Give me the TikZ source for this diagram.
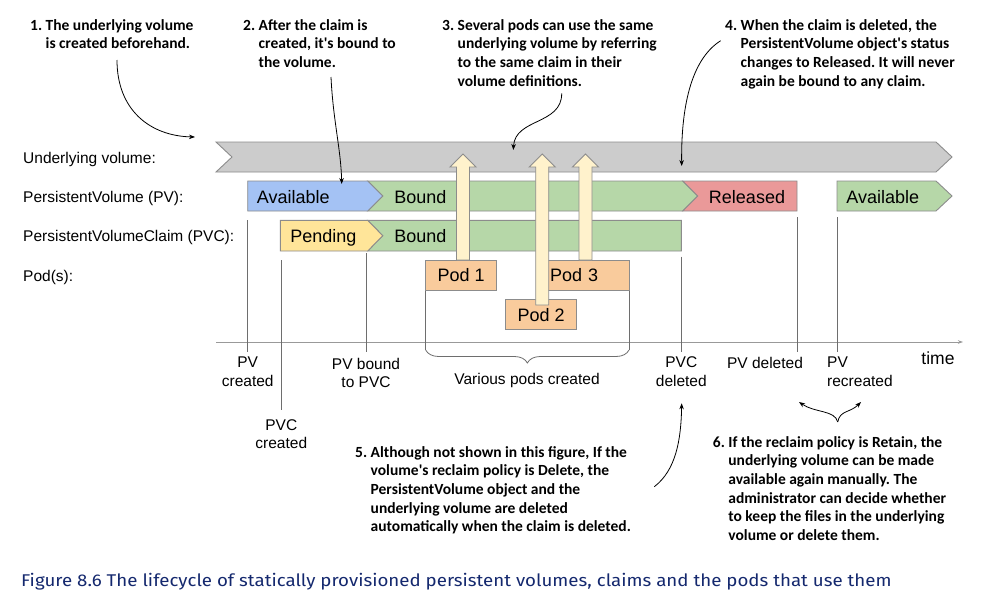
\documentclass[tikz,border=0pt]{standalone}
\usepackage{fontspec}
\setmainfont{Liberation Sans}
\newfontfamily\notefont{Carlito}
\newfontfamily\capfont{Fira Sans}[FakeStretch=1.1]
\usetikzlibrary{arrows.meta,positioning,decorations.pathreplacing,calc}
\frenchspacing
\definecolor{volgray}{HTML}{CCCCCC}
\definecolor{availblue}{HTML}{A4C2F4}
\definecolor{boundgreen}{HTML}{B6D7A8}
\definecolor{releasedred}{HTML}{EA9999}
\definecolor{pendyellow}{HTML}{FFE599}
\definecolor{podorange}{HTML}{F9CB9C}
\definecolor{podcream}{HTML}{FFF2CC}
\definecolor{edgegray}{HTML}{8C8C8C}
\definecolor{tickgray}{HTML}{6E6E6E}
\definecolor{captionblue}{HTML}{14286E}
\tikzset{
  bar/.style={draw=edgegray, line width=0.9pt},
  rowlabel/.style={inner sep=0pt, anchor=north west, font=\fontsize{15.5}{18.5}\selectfont},
  statelabel/.style={inner sep=0pt, anchor=north, font=\fontsize{18}{21}\selectfont},
  podbox/.style={draw=edgegray, line width=0.9pt, fill=podorange, inner sep=0pt,
    minimum height=30pt, font=\fontsize{18}{21}\selectfont},
  ticklabel/.style={inner sep=0pt, anchor=north, align=center, font=\fontsize{15.5}{18.5}\selectfont},
  note/.style={inner sep=0pt, anchor=base west, font=\notefont\bfseries\fontsize{15.5}{18.7}\selectfont},
  timetick/.style={draw=tickgray, line width=0.8pt},
  notearr/.style={-{Stealth[length=6pt,width=4.5pt]}, line width=0.8pt},
}
% block arrow from a pod up into the volume bar
\newcommand{\podarrow}[2]{%
  \draw[bar, fill=podcream] (#1-6.5,#2) -- (#1-6.5,167) -- (#1-13,167) -- (#1,154)
    -- (#1+13,167) -- (#1+6.5,167) -- (#1+6.5,#2) -- cycle;}
\newcommand{\notelines}[2]{\begin{tabular}[t]{@{}l@{\ }l@{}}#1 & #2\end{tabular}}

\begin{document}
\begin{tikzpicture}[x=1pt,y=-1pt]
  \useasboundingbox (0,0) rectangle (982,605);
  \fill[white] (0,0) rectangle (982,605);

  % row labels
  \node[rowlabel] (rowvol) at (23,151.7) {Underlying volume:};
  \node[rowlabel] (rowpv) at (23,190.6) {PersistentVolume (PV):};
  \node[rowlabel] (rowpvc) at (23,230.2) {PersistentVolumeClaim (PVC):};
  \node[rowlabel] (rowpod) at (23,269.6) {Pod(s):};

  % time axis and ticks
  \coordinate (axisstart) at (216,342);
  \coordinate (axisend) at (963,342);
  \draw[timetick, draw=black!40, -{Stealth[length=5pt,width=3.5pt]}] (axisstart) -- (axisend);
  \foreach \name/\x/\top/\bot in {pvmade/247.7/220/352, pvcmade/281.3/260/410,
      bound/366/253/352, pvcgone/681.7/256.7/352, pvgone/797/217/352, pvnew/837/217/352} {
    \coordinate (\name top) at (\x,\top);
    \coordinate (\name bot) at (\x,\bot);
    \draw[timetick] (\name top) -- (\name bot);
  }
  \coordinate (podsl) at (425.7,290);
  \coordinate (podsr) at (629,290);
  \coordinate (bracel) at (425.7,350);
  \coordinate (bracer) at (629,350);
  \draw[timetick] (podsl) -- (bracel);
  \draw[timetick] (podsr) -- (bracer);
  \draw[timetick, decorate, decoration={brace, mirror, amplitude=13pt}] (bracel) -- (bracer);

  % underlying volume
  \draw[bar, fill=volgray] (216,142) -- (936,142) -- (952,157) -- (936,172) -- (216,172) -- (232,157) -- cycle;

  % PV states
  \draw[bar, fill=boundgreen] (367.7,181) -- (682.7,181) -- (697.7,196) -- (682.7,211) -- (367.7,211) -- (382.7,196) -- cycle;
  \draw[bar, fill=availblue] (247.7,181) -- (367.7,181) -- (382.7,196) -- (367.7,211) -- (247.7,211) -- cycle;
  \draw[bar, fill=releasedred] (682.7,181) -- (797,181) -- (797,211) -- (682.7,211) -- (697.7,196) -- cycle;
  \draw[bar, fill=boundgreen] (837,181) -- (936,181) -- (952,196) -- (936,211) -- (837,211) -- cycle;
  \node[statelabel] (pvavail) at (293.2,190) {Available};
  \node[statelabel] (pvbound) at (420.3,190) {Bound};
  \node[statelabel] (pvreleased) at (747,190) {Released};
  \node[statelabel] (pvavailagain) at (882.7,190) {Available};

  % PVC states
  \draw[bar, fill=boundgreen] (367.7,220.3) -- (681.3,220.3) -- (681.3,251) -- (367.7,251) -- (382.7,235.7) -- cycle;
  \draw[bar, fill=pendyellow] (280.3,220.3) -- (367.7,220.3) -- (382.7,235.7) -- (367.7,251) -- (280.3,251) -- cycle;
  \node[statelabel] (pvcpending) at (323.3,229.3) {Pending};
  \node[statelabel] (pvcbound) at (420.3,229.3) {Bound};

  % pods
  \node[podbox, minimum width=71pt] (pod1) at (461.2,275.2) {Pod 1};
  \node[podbox, minimum width=88pt, text width=70pt, align=left] (pod3) at (585,275.2) {Pod 3};
  \node[podbox, minimum width=71pt] (pod2) at (541.2,314.7) {Pod 2};
  \podarrow{463}{260}
  \podarrow{542.2}{305}
  \podarrow{585.5}{260}

  % time labels
  \node[ticklabel] (lpvmade) at (247.7,356.7) {PV\\created};
  \node[ticklabel] (lpvcmade) at (281.3,419.3) {PVC\\created};
  \node[ticklabel] (lbound) at (366,358) {PV bound\\to PVC};
  \node[ticklabel] (lpods) at (527,373.3) {Various pods created};
  \node[ticklabel] (lpvcgone) at (681.3,356.7) {PVC\\deleted};
  \node[ticklabel] (lpvgone) at (765,357) {PV deleted};
  \node[ticklabel, anchor=north west, align=left] (lpvnew) at (827,357) {PV\\recreated};
  \node[ticklabel, font=\fontsize{17.5}{20}\selectfont] (ltime) at (938,351.7) {time};

  % callouts
  \node[note] (note1) at (30,30) {\notelines{1.}{The underlying volume\\ & is created beforehand.}};
  \node[note] (note2) at (243,30) {\notelines{2.}{After the claim is\\ & created, it's bound to\\ & the volume.}};
  \node[note] (note3) at (442,30) {\notelines{3.}{Several pods can use the same\\ & underlying volume by referring\\ & to the same claim in their\\ & volume definitions.}};
  \node[note] (note4) at (725,30) {\notelines{4.}{When the claim is deleted, the\\ & PersistentVolume object's status\\ & changes to Released. It will never\\ & again be bound to any claim.}};
  \node[note] (note5) at (355,457) {\notelines{5.}{Although not shown in this figure, If the\\ & volume's reclaim policy is Delete, the\\ & PersistentVolume object and the\\ & underlying volume are deleted\\ & automatically when the claim is deleted.}};
  \node[note] (note6) at (712.7,447) {\notelines{6.}{If the reclaim policy is Retain, the\\ & underlying volume can be made\\ & available again manually. The\\ & administrator can decide whether\\ & to keep the files in the underlying\\ & volume or delete them.}};

  \coordinate (n1from) at (117,60);
  \coordinate (n1to) at (195,137);
  \coordinate (n2from) at (331,77);
  \coordinate (n2to) at (341.7,184);
  \coordinate (n3from) at (561.7,93.3);
  \coordinate (n3to) at (513.3,150);
  \coordinate (n4from) at (720.7,40.7);
  \coordinate (n4to) at (681.7,166);
  \coordinate (n5from) at (654.3,486.7);
  \coordinate (n5to) at (681.7,403.3);
  \coordinate (n6from) at (837.7,422);
  \coordinate (n6left) at (799,402);
  \coordinate (n6right) at (861,402);
  \draw[notearr] (n1from) .. controls (117,110) and (150,136) .. (n1to);
  \draw[notearr] (n2from) .. controls (333,120) and (341,150) .. (n2to);
  \draw[notearr] (n3from) .. controls (562,125) and (515,118) .. (n3to);
  \draw[notearr] (n4from) .. controls (690,60) and (681,110) .. (n4to);
  \draw[notearr] (n5from) .. controls (676,470) and (681,440) .. (n5to);
  \draw[notearr] (n6from) .. controls (835,410) and (815,413) .. (n6left);
  \draw[notearr] (n6from) .. controls (840,410) and (850,413) .. (n6right);

  % caption
  \node[inner sep=0pt, anchor=base west, text=captionblue, font=\capfont\fontsize{17}{20}\selectfont] (caption) at (21,586)
    {Figure 8.6 The lifecycle of statically provisioned persistent volumes, claims and the pods that use them};
\end{tikzpicture}
\end{document}
